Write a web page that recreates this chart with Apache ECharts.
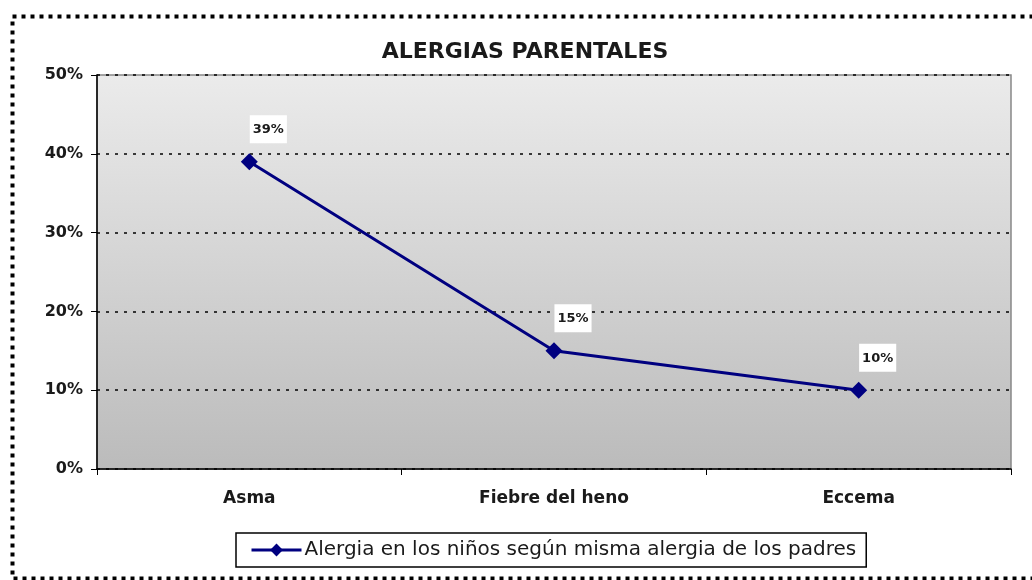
<!DOCTYPE html>
<html>
<head>
<meta charset="utf-8">
<script src="https://cdn.jsdelivr.net/npm/echarts@6/dist/echarts.min.js"></script>
<style>
  html, body { margin: 0; padding: 0; background: #ffffff; }
  #chart { width: 1032px; height: 580px; }
</style>
</head>
<body>
<div id="chart"></div>
<script>
// Categories and values (percent)
const categories = ['Asma', 'Fiebre del heno', 'Eccema'];
const seriesName = 'Alergia en los niños según misma alergia de los padres';
const values = [39, 15, 10];
const yTicks = [0, 10, 20, 30, 40, 50];

const chart = echarts.init(document.getElementById('chart'));
const font = '"DejaVu Sans", Verdana, sans-serif';

chart.setOption({
  backgroundColor: '#ffffff',
  animation: false,
  title: {
    text: 'ALERGIAS PARENTALES',
    left: 520,
    textAlign: 'center',
    top: 36,
    textStyle: { fontFamily: font, fontSize: 22, fontWeight: 'bold', color: '#1a1a1a' }
  },
  graphic: [
    {
      type: 'rect',
      left: 10, top: 14,
      shape: { width: 1040, height: 562 },
      style: { fill: 'none', stroke: '#000', lineWidth: 4, lineDash: [4, 5] },
      silent: true, z: 0
    }
  ],
  grid: {
    left: 97, right: 21, top: 75, bottom: 111,
    show: true,
    backgroundColor: new echarts.graphic.LinearGradient(0, 0, 0, 1, [
      { offset: 0, color: '#ebebeb' },
      { offset: 1, color: '#bbbbbb' }
    ]),
    borderColor: '#888888',
    borderWidth: 1.5
  },
  legend: {
    bottom: 13,
    left: 236,
    padding: [7, 10, 7, 14],
    itemWidth: 50,
    itemHeight: 16,
    itemGap: 4,
    backgroundColor: '#ffffff',
    borderColor: '#000000',
    borderWidth: 1.5,
    lineStyle: { width: 3 },
    textStyle: { fontFamily: font, fontSize: 20, color: '#1a1a1a', padding: [0, 0, 0, -2] },
    data: [seriesName]
  },
  xAxis: {
    type: 'category',
    data: categories,
    boundaryGap: true,
    axisLine: { lineStyle: { color: '#000', width: 1.5 } },
    axisTick: { show: true, length: 6, lineStyle: { color: '#000' } },
    axisLabel: { margin: 21, fontFamily: font, fontSize: 17, fontWeight: 'bold', color: '#1a1a1a' },
    splitLine: { show: false }
  },
  yAxis: {
    type: 'value',
    min: yTicks[0],
    max: yTicks[yTicks.length - 1],
    interval: 10,
    axisLine: { show: true, lineStyle: { color: '#000', width: 1.5 } },
    axisTick: { show: true, length: 6, lineStyle: { color: '#000' } },
    axisLabel: {
      margin: 14,
      fontFamily: font, fontSize: 16, fontWeight: 'bold', color: '#1a1a1a',
      formatter: v => v + '%'
    },
    splitLine: {
      show: true,
      lineStyle: { color: '#000', width: 1.5, type: [3, 6] }
    }
  },
  series: [{
    name: seriesName,
    type: 'line',
    data: values,
    symbol: 'diamond',
    symbolSize: 17,
    itemStyle: { color: '#000080' },
    lineStyle: { color: '#000080', width: 3 },
    label: {
      show: true,
      position: 'top',
      offset: [19, -5],
      formatter: p => p.value + '%',
      backgroundColor: '#ffffff',
      padding: [8, 3, 7, 3],
      fontFamily: font, fontSize: 13, fontWeight: 'bold', color: '#1a1a1a'
    }
  }]
});
</script>
</body>
</html>
